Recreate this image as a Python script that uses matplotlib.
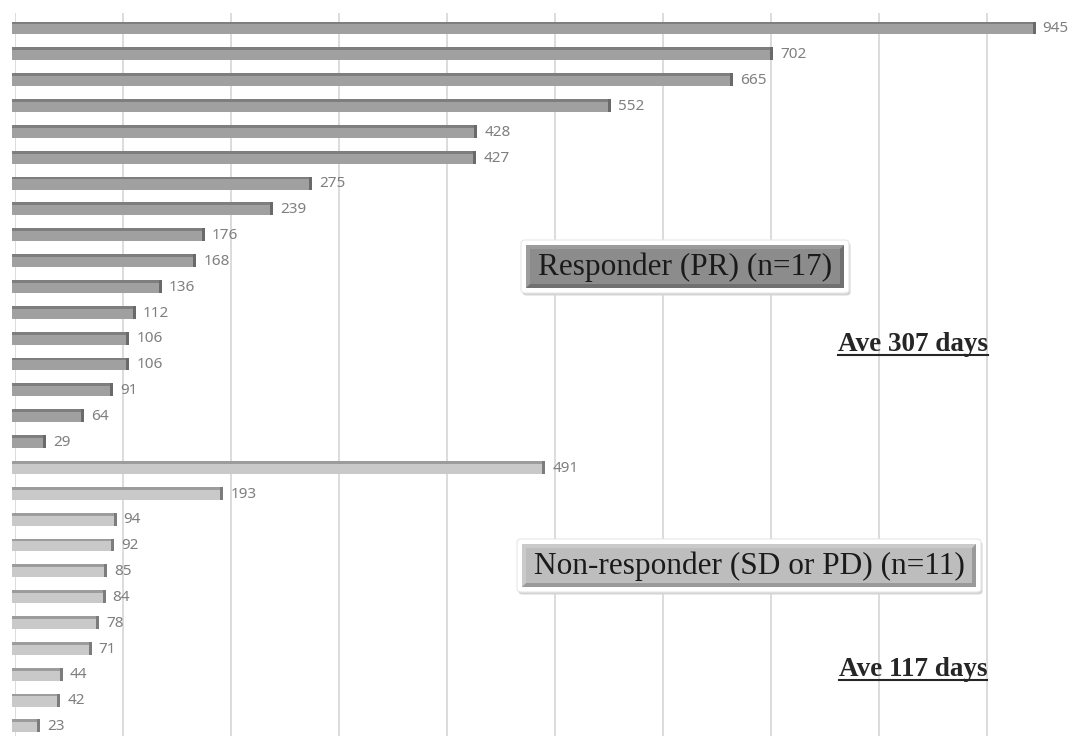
import matplotlib
matplotlib.use("Agg")
import matplotlib.pyplot as plt
from matplotlib.patches import FancyBboxPatch, Rectangle, Polygon
from matplotlib.lines import Line2D

# Days on treatment per patient, grouped by response
responder_days = [945, 702, 665, 552, 428, 427, 275, 239, 176, 168, 136, 112, 106, 106, 91, 64, 29]
nonresponder_days = [491, 193, 94, 92, 85, 84, 78, 71, 44, 42, 23]
responder_label = "Responder (PR) (n=17)"
nonresponder_label = "Non-responder (SD or PD) (n=11)"
responder_avg = "Ave 307 days"
nonresponder_avg = "Ave 117 days"
grid_ticks = [0, 100, 200, 300, 400, 500, 600, 700, 800, 900]

W, H = 1090, 736
fig = plt.figure(figsize=(W / 100, H / 100), dpi=100)
fig.patch.set_facecolor("white")

# axes in pixel terms: x=0 at 15 px, 1.08 px per day; rows 25.85 px apart
px_per_unit = 1.08
ax_left_px, ax_top_px = 15, 13
ax = fig.add_axes([ax_left_px / W, 0, (W - ax_left_px) / W, (H - ax_top_px) / H])
ax.set_xlim(0, (W - ax_left_px) / px_per_unit)
n = len(responder_days) + len(nonresponder_days)
ax.set_ylim(n - 1 + 0.39, -0.58)
for s in ax.spines.values():
    s.set_visible(False)
ax.set_xticks([])
ax.set_yticks([])

for g in grid_ticks:
    ax.axvline(g, color="#d9d9d9", lw=1.3, zorder=0)

values = responder_days + nonresponder_days
front = ["#a0a0a0"] * len(responder_days) + ["#c9c9c9"] * len(nonresponder_days)
top = ["#7e7e7e"] * len(responder_days) + ["#9c9c9c"] * len(nonresponder_days)
cap = ["#6a6a6a"] * len(responder_days) + ["#7c7c7c"] * len(nonresponder_days)
ypos = list(range(n))

bar_h = 0.5
depth = 3.0 / px_per_unit
containers = []
containers.append(ax.barh(ypos, values, left=-depth, height=bar_h, color=front,
                          zorder=2, linewidth=0))
# darker top face for a raised look
containers.append(ax.barh([y - bar_h / 2 + 0.055 for y in ypos], values, left=-depth,
                          height=0.11, color=top, zorder=3, linewidth=0))
# darker end cap
containers.append(ax.barh(ypos, [depth] * n, left=[v - depth for v in values],
                          height=bar_h, color=cap, zorder=4, linewidth=0))
for c in containers:
    for p in c:
        p.set_clip_on(False)

for y, v in zip(ypos, values):
    ax.text(v + 7 / px_per_unit, y + 0.03, str(v), va="center", ha="left",
            fontsize=11, color="#7f7f7f", family="Noto Sans", zorder=5)


def fig_box(x0, y0, x1, y1, fill, light, dark, text):
    fx0, fx1 = x0 / W, x1 / W
    fy0, fy1 = 1 - y1 / H, 1 - y0 / H
    # soft shadow + white rim
    fig.add_artist(FancyBboxPatch((fx0 + 1.5 / W, fy0 - 2.5 / H), fx1 - fx0, fy1 - fy0,
                                  boxstyle="round,pad=0,rounding_size=0.004",
                                  transform=fig.transFigure, facecolor="#d4d4d4",
                                  edgecolor="none", zorder=5))
    fig.add_artist(FancyBboxPatch((fx0, fy0), fx1 - fx0, fy1 - fy0,
                                  boxstyle="round,pad=0,rounding_size=0.004",
                                  transform=fig.transFigure, facecolor="white",
                                  edgecolor="#e6e6e6", lw=0.8, zorder=6))
    ix0, iy0 = fx0 + 5 / W, fy0 + 5 / H
    ix1, iy1 = fx1 - 5 / W, fy1 - 5 / H
    b = 4
    bx, by = b / W, b / H
    # bevel: dark bottom/right, light top/left
    fig.add_artist(Rectangle((ix0, iy0), ix1 - ix0, iy1 - iy0, transform=fig.transFigure,
                             facecolor=dark, edgecolor="none", zorder=7))
    fig.add_artist(Polygon([(ix0, iy0), (ix0, iy1), (ix1, iy1), (ix1 - bx, iy1 - by),
                            (ix0 + bx, iy1 - by), (ix0 + bx, iy0 + by)],
                           closed=True, transform=fig.transFigure,
                           facecolor=light, edgecolor="none", zorder=7.5))
    fig.add_artist(Rectangle((ix0 + bx, iy0 + by), ix1 - ix0 - 2 * bx, iy1 - iy0 - 2 * by,
                             transform=fig.transFigure, facecolor=fill,
                             edgecolor="none", zorder=8))
    fig.text((fx0 + fx1) / 2, (fy0 + fy1) / 2 - 1 / H, text, ha="center", va="center",
             fontsize=22.5, family="Liberation Serif", color="#1a1a1a", zorder=9)


fig_box(521, 240, 849, 293, "#8c8c8c", "#9c9c9c", "#707070", responder_label)
fig_box(517, 539, 981, 592, "#bdbdbd", "#cacaca", "#9a9a9a", nonresponder_label)

avg_texts = []
for label, cy in [(responder_avg, 344), (nonresponder_avg, 669)]:
    t = fig.text(913 / W, 1 - cy / H, label, ha="center", va="center", fontsize=19.5,
                 family="Liberation Serif", weight="bold", color="#262626")
    avg_texts.append(t)

fig.canvas.draw()
renderer = fig.canvas.get_renderer()
for t in avg_texts:
    bb = t.get_window_extent(renderer)
    yline = bb.y0 + 2
    fig.add_artist(Line2D([bb.x0 / W, bb.x1 / W], [yline / H, yline / H],
                          transform=fig.transFigure, color="#262626", lw=1.5))

fig.savefig("out.png", dpi=100)
